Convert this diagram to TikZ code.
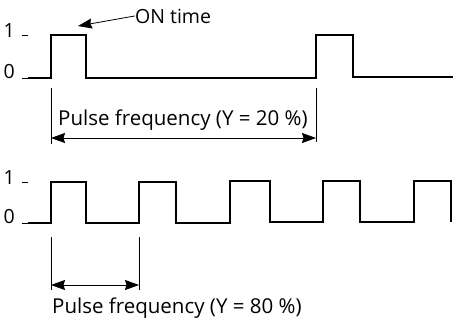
\documentclass[tikz,border=0pt]{standalone}
\usepackage{fontspec}
\setmainfont{Open Sans}
\usetikzlibrary{arrows.meta,positioning}
\begin{document}
\begin{tikzpicture}[x=1pt,y=-1pt,
  wave/.style={line width=2.3pt,line join=miter},
  tck/.style={line width=0.8pt},
  ext/.style={line width=0.8pt},
  dim/.style={{Stealth[length=14pt,width=10pt,inset=1.5pt]}-{Stealth[length=14pt,width=10pt,inset=1.5pt]},line width=0.8pt},
  lab/.style={font=\fontsize{19.5}{22}\selectfont,inner sep=0pt},
  frq/.style={lab,font=\fontsize{20.5}{24}\selectfont,anchor=base west},
  lvl/.style={lab,anchor=base east}]
  \useasboundingbox (0,0) rectangle (453,325);
  % ---- 1. Pulse train, Y = 20 %
  \node[lvl] (one1)  at (15,37) {1};
  \node[lvl] (zero1) at (15,78) {0};
  \draw[tck] (22,35) -- (28,35);
  \draw[tck] (22,78) -- (28,78);
  \draw[wave] (28,78) -- (51,78) -- (51,35) -- (86,35) -- (86,78) -- (316,78)
    -- (316,35) -- (353,35) -- (353,77) -- (453,77);
  \node[lab,anchor=base west] (on) at (135,23) {ON time};
  \coordinate (onpt) at (78,26);
  \draw[ext,-{Stealth[length=14pt,width=10pt,inset=1.5pt]}] (on.west) -- (onpt);
  \coordinate (a1) at (51,88);  \coordinate (a2) at (51,144);
  \coordinate (b1) at (316,88); \coordinate (b2) at (316,142);
  \draw[ext] (a1) -- (a2);
  \draw[ext] (b1) -- (b2);
  \coordinate (pa) at (51,138); \coordinate (pb) at (316,138);
  \draw[dim] (pa) -- (pb);
  \node[frq] (f20) at (58,125) {Pulse frequency (Y = 20 \%)};
  % ---- 2. Pulse train, Y = 80 %
  \node[lvl] (one2)  at (15,184) {1};
  \node[lvl] (zero2) at (15,223) {0};
  \draw[tck] (22,182) -- (28,182);
  \draw[tck] (22,223) -- (28,223);
  \draw[wave] (28,223) -- (51,223) -- (51,182) -- (86,182) -- (86,223) -- (139,223)
    -- (139,182) -- (176,182) -- (176,223) -- (230,223) -- (230,181) -- (270,181)
    -- (270,222) -- (323,222) -- (323,181) -- (360,181) -- (360,222) -- (414,222)
    -- (414,181) -- (451,181) -- (451,222);
  \coordinate (c1) at (51,237);  \coordinate (c2) at (51,290);
  \coordinate (d1) at (139,237); \coordinate (d2) at (139,290);
  \draw[ext] (c1) -- (c2);
  \draw[ext] (d1) -- (d2);
  \coordinate (qa) at (51,285); \coordinate (qb) at (139,285);
  \draw[dim] (qa) -- (qb);
  \node[frq] (f80) at (52,313) {Pulse frequency (Y = 80 \%)};
\end{tikzpicture}
\end{document}
